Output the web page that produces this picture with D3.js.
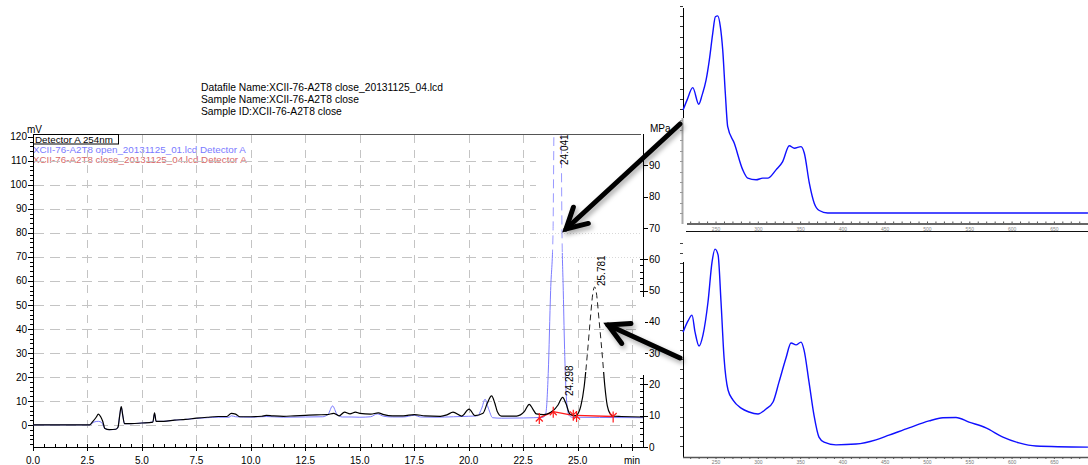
<!DOCTYPE html>
<html><head><meta charset="utf-8">
<script src="https://cdn.jsdelivr.net/npm/d3@7"></script>
<style>html,body{margin:0;padding:0;background:#fff;}svg{display:block;font-family:"Liberation Sans",Arial,sans-serif;}</style>
</head><body>
<svg id="c" width="1088" height="465"></svg>
<script>
// ---------- data ----------
const titleLines = ["Datafile Name:XCII-76-A2T8 close_20131125_04.lcd","Sample Name:XCII-76-A2T8 close","Sample ID:XCII-76-A2T8 close"];
const legendBox = "Detector A 254nm";
const legendOpen = "XCII-76-A2T8 open_20131125_01.lcd Detector A";
const legendClose = "XCII-76-A2T8 close_20131125_04.lcd Detector A";

const closeT = [0,2.6,2.75,2.9,3.0,3.1,3.2,3.3,3.5,3.8,3.9,3.98,4.05,4.12,4.2,4.5,5.0,5.5,5.58,5.65,6.0,6.5,7.0,7.5,8.0,8.5,8.9,9.1,9.3,9.5,10.0,10.5,10.7,11.0,11.5,12.0,12.5,13.0,13.5,13.8,14.05,14.3,14.55,14.8,15.0,15.5,15.85,16.1,16.5,17.0,17.5,18.0,18.7,19.0,19.28,19.67,20.02,20.28,20.66,20.85,21.05,21.2,21.31,21.5,22.2,22.55,22.78,22.95,23.1,23.42,23.88,24.1,24.31,24.46,24.64,24.87,25.0,25.15,25.3,25.45,25.6,25.7,25.78,25.86,25.98,26.14,26.25,26.36,26.5,26.65,27.0,28.0];
const closeMV = [0,0,1.5,3.2,4.5,3.5,1.5,-1.5,-2,-1.8,-1,4,7.6,4,0.5,0.5,0.8,1.2,5,1.5,1.5,2,2.3,2.8,3.2,3.5,3.5,4.8,4.5,3.4,3.4,3.6,4,3.8,3.6,3.8,4,4.2,4.3,4.8,3.8,5.3,4.6,5.3,4.8,4.5,5,4.3,3.8,3.8,4.3,3.8,3.6,4.2,5.3,3.7,6.6,3.9,4.9,9,12.1,9,5.6,3.7,3.7,5.5,8.6,6.5,4.6,4.3,6,8.3,11.5,9,4.6,3.8,4.5,8,16,30,46,55,57.5,55,44,28,16,8,4.5,3.6,3.5,3.3];

const openT = [0,2.6,2.8,3.0,3.15,3.3,3.5,3.8,3.9,3.98,4.05,4.12,4.2,4.5,5.0,5.5,5.58,5.65,6.0,6.5,7.0,7.5,8.0,8.5,9.0,9.1,9.3,10.0,10.7,11.5,12.5,13.3,13.55,13.75,13.95,14.2,14.6,15.0,15.5,15.8,16.1,16.5,17.0,17.5,17.8,18.5,19.3,20.0,20.4,20.6,20.75,20.9,21.1,21.5,22.5,23.42,23.54,23.65,23.76,23.87,23.92,24.04,24.15,24.24,24.28,24.34,24.41,24.49,24.6,24.75,26.0,28.0];
const openMV = [0,0,1.2,1.5,1,-1.5,-2,-1.8,-1,4,7.3,4,0.5,0.5,0.8,1.2,4.5,1.5,1.5,2,2.3,2.7,3,3.2,3.2,3.8,3.4,3.2,3.5,3.2,3.3,3.4,4.5,7.9,4.5,3.3,3.3,3.2,3.4,4.6,3.6,3.3,3.3,4,3.3,3.2,3.4,3.6,3.8,7,10.7,7,3,2.8,2.9,3.2,4.9,21.5,56,80,130,160,145,124,82,56,28.5,10.4,4,3.2,3.1,3.0];

// integration baselines (red) and markers
const baseStartT = [23.24,23.88,24.92];
const baseStartV = [2.9,5.5,4.0];
const baseEndT   = [23.88,24.85,26.63];
const baseEndV   = [5.5,3.9,3.5];
const markT = [23.24,23.88,24.80,24.95,26.63];
const markV = [2.9,5.5,4.2,3.7,3.5];
const markDir = [1,1,-1,1,-1];

const peakLabels = ["24.041","25.781","24.298"];

const xTicks = [0,2.5,5,7.5,10,12.5,15,17.5,20,22.5,25];
const yTicks = [0,10,20,30,40,50,60,70,80,90,100,110,120];
const rTicks = [0,10,20,30,40,50,60,70,80,90];

// UV spectra (nm, absorbance)
const specTopNm  = [211,215.7,222.5,229.6,233.5,238.2,242.1,246.1,249.2,252,255.1,257.9,261,263.8,271.6,281.6,287.5,297.3,305.2,311.1,320.9,328.8,336.6,342.6,350.5,354.4,360.3,366.2,372.1,382,689.7];
const specTopAbs = [2.48,2.72,3.02,2.62,2.84,3.2,3.69,4.33,4.73,4.75,4.49,3.93,2.88,2.08,1.68,1.04,0.84,0.8,0.84,0.84,1.04,1.24,1.62,1.56,1.6,1.44,0.72,0.23,0.06,0,0];
const specBotNm  = [211,216.9,221.6,225.2,229.9,234.6,240.5,245.3,248.8,252.4,255.9,259.5,264.2,270.1,279.6,289,299.6,309.1,317.4,324.5,332.7,338.7,344.6,350.5,354,359.9,365.8,371.7,377.7,391.8,415.5,439.1,454.5,478.1,501.8,518.3,533.7,549.1,569.1,589.2,608.2,628.3,689.7];
const specBotAbs = [2.95,3.24,3.39,2.95,2.59,2.88,3.73,4.77,5.1,4.95,3.73,2.28,1.45,1.19,0.98,0.88,0.83,0.96,1.14,1.66,2.28,2.67,2.62,2.69,2.49,1.66,0.8,0.23,0.1,0.03,0.05,0.16,0.28,0.47,0.65,0.73,0.74,0.62,0.47,0.23,0.08,0,-0.03];
const specTicks = [250,300,350,400,450,500,550,600,650];

// ---------- drawing ----------
const svg = d3.select("#c");
const defs = svg.append("defs");
const f = defs.append("filter").attr("id","sh").attr("x","-20%").attr("y","-20%").attr("width","150%").attr("height","150%");
f.append("feDropShadow").attr("dx",2).attr("dy",3).attr("stdDeviation",2.5).attr("flood-color","#000").attr("flood-opacity",0.35);

const x = d3.scaleLinear().domain([0,28]).range([33,643]);
const y = d3.scaleLinear().domain([-9.2,121.2]).range([447,134]);
const yR = d3.scaleLinear().domain([0,100]).range([447,134]);

// title
svg.append("g").selectAll("text").data(titleLines).join("text")
  .attr("x",201).attr("y",(d,i)=>90.5+i*12).attr("font-size",10.3).attr("fill","#000").text(d=>d);

// legend texts (under grid)
svg.append("text").attr("x",33).attr("y",153).attr("font-size",9.8).attr("fill","#7a7aff").text(legendOpen);
svg.append("text").attr("x",33).attr("y",162.5).attr("font-size",9.8).attr("fill","#d86a6a").text(legendClose);

// grid
const gGrid = svg.append("g").attr("stroke","#c4c4c4").attr("stroke-width",1);
gGrid.selectAll("line.v").data(xTicks.slice(1).concat([27.5])).join("line")
  .attr("x1",d=>Math.round(x(d))+0.5).attr("x2",d=>Math.round(x(d))+0.5).attr("y1",135).attr("y2",446)
  .attr("stroke-dasharray","8,7");
gGrid.selectAll("line.h").data(yTicks.filter(d=>d<=110)).join("line")
  .attr("x1",34).attr("x2",642).attr("y1",d=>Math.round(y(d))+0.5).attr("y2",d=>Math.round(y(d))+0.5)
  .attr("stroke-dasharray","10,6");

// white patch (pasted arrow picture) hiding part of grid
svg.append("rect").attr("x",536).attr("y",135).attr("width",106).attr("height",124).attr("fill","#fff");
svg.selectAll("line.dot").data([80,70]).join("line")
  .attr("x1",537).attr("x2",642).attr("y1",d=>Math.round(y(d))+0.5).attr("y2",d=>Math.round(y(d))+0.5)
  .attr("stroke","#d8d8d8").attr("stroke-dasharray","1,2");

// frame & axes
svg.append("line").attr("x1",33).attr("x2",641).attr("y1",134.5).attr("y2",134.5).attr("stroke","#555");
svg.append("line").attr("x1",33.5).attr("x2",33.5).attr("y1",134).attr("y2",447).attr("stroke","#000");
svg.append("line").attr("x1",33).attr("x2",643).attr("y1",447.5).attr("y2",447.5).attr("stroke","#000");

// left axis ticks
const gL = svg.append("g");
gL.selectAll("line.m").data(d3.range(-8,121,2)).join("line")
  .attr("x1",30).attr("x2",33).attr("y1",d=>Math.round(y(d))+0.5).attr("y2",d=>Math.round(y(d))+0.5).attr("stroke","#000");
gL.selectAll("line.M").data(yTicks).join("line")
  .attr("x1",28).attr("x2",33).attr("y1",d=>Math.round(y(d))+0.5).attr("y2",d=>Math.round(y(d))+0.5).attr("stroke","#000");
gL.selectAll("text").data(yTicks).join("text")
  .attr("x",27).attr("y",d=>y(d)+3.6).attr("text-anchor","end").attr("font-size",10).text(d=>d);
svg.append("text").attr("x",27).attr("y",133).attr("font-size",10).text("mV");

// bottom axis
const gB = svg.append("g");
gB.selectAll("line.m").data(d3.range(0,28.01,0.5)).join("line")
  .attr("x1",d=>Math.round(x(d))+0.5).attr("x2",d=>Math.round(x(d))+0.5).attr("y1",444).attr("y2",447).attr("stroke","#000");
gB.selectAll("line.M").data(xTicks.concat([27.5])).join("line")
  .attr("x1",d=>Math.round(x(d))+0.5).attr("x2",d=>Math.round(x(d))+0.5).attr("y1",447).attr("y2",451).attr("stroke","#000");
gB.selectAll("text").data(xTicks).join("text")
  .attr("x",d=>x(d)).attr("y",464).attr("text-anchor","middle").attr("font-size",10).text(d=>d.toFixed(1));
svg.append("text").attr("x",x(27.5)).attr("y",464).attr("text-anchor","middle").attr("font-size",10).text("min");

// right axis
const gR = svg.append("g");
gR.append("line").attr("x1",643.5).attr("x2",643.5).attr("y1",134).attr("y2",448).attr("stroke","#000");
gR.selectAll("line.m").data(d3.range(0,100,2).filter(d=>d<=60)).join("line")
  .attr("x1",640).attr("x2",643).attr("y1",d=>Math.round(yR(d))+0.5).attr("y2",d=>Math.round(yR(d))+0.5).attr("stroke","#000");
// patch over right axis line
svg.append("rect").attr("x",637).attr("y",297).attr("width",8).attr("height",78).attr("fill","#fff");
gR.selectAll("line.M").data(rTicks).join("line")
  .attr("x1",644).attr("x2",648).attr("y1",d=>Math.round(yR(d))+0.5).attr("y2",d=>Math.round(yR(d))+0.5).attr("stroke","#000");
gR.selectAll("text").data(rTicks).join("text")
  .attr("x",649).attr("y",d=>yR(d)+3.6).attr("font-size",10).text(d=>d);
svg.append("text").attr("x",650).attr("y",132).attr("font-size",10).text("MPa");

// legend box
svg.append("rect").attr("x",33.5).attr("y",134.5).attr("width",85).attr("height",9.5).attr("fill","#fff").attr("stroke","#000");
svg.append("text").attr("x",35).attr("y",142.8).attr("font-size",9.8).text(legendBox);

// traces
const clipBand = (id,y0,y1)=>{defs.append("clipPath").attr("id",id).append("rect").attr("x",33).attr("y",y0).attr("width",611).attr("height",y1-y0);};
clipBand("bLo",253,447); clipBand("bHi",135,253); clipBand("kLo",372,447); clipBand("kHi",135,372);
const line = d3.line().x(d=>x(d[0])).y(d=>y(d[1])).curve(d3.curveMonotoneX);
const openPts = openT.map((t,i)=>[t,openMV[i]]);
const closePts = closeT.map((t,i)=>[t,closeMV[i]]);
svg.append("path").attr("d",line(openPts)).attr("fill","none").attr("stroke","#7b7bff").attr("stroke-width",1).attr("clip-path","url(#bLo)");
svg.append("path").attr("d",line(openPts)).attr("fill","none").attr("stroke","#9a9aff").attr("stroke-width",1).attr("stroke-dasharray","9,5").attr("clip-path","url(#bHi)");

// red baselines
const gRed = svg.append("g").attr("stroke","#ff1a1a").attr("stroke-width",1.3).attr("fill","none");
gRed.selectAll("line").data(baseStartT).join("line")
  .attr("x1",(d)=>x(d)).attr("y1",(d,i)=>y(baseStartV[i])).attr("x2",(d,i)=>x(baseEndT[i])).attr("y2",(d,i)=>y(baseEndV[i]));

svg.append("path").attr("d",line(closePts)).attr("fill","none").attr("stroke","#000").attr("stroke-width",1.2).attr("clip-path","url(#kLo)");
svg.append("path").attr("d",line(closePts)).attr("fill","none").attr("stroke","#222").attr("stroke-width",1).attr("stroke-dasharray","6,4").attr("clip-path","url(#kHi)");

// red markers
const gM = svg.append("g").attr("stroke","#ff1a1a").attr("stroke-width",1.2).attr("fill","none");
markT.forEach((t,i)=>{
  const px=x(t), py=y(markV[i]), s=markDir[i];
  gM.append("line").attr("x1",px).attr("x2",px).attr("y1",py-5).attr("y2",py+6);
  gM.append("path").attr("d",`M${px-3.5},${py+s*3.5} L${px},${py} L${px+3.5},${py+s*3.5}`);
});

// peak labels (rotated)
const labelPos = [[568,165],[605,286],[573,396]];
svg.append("g").selectAll("text").data(peakLabels).join("text")
  .attr("transform",(d,i)=>`translate(${labelPos[i][0]},${labelPos[i][1]}) rotate(-90)`)
  .attr("font-size",10).attr("fill","#000").text(d=>d);

// ---------- UV spectra ----------
const sx = d3.scaleLinear().domain([210,690]).range([682.2,1088.2]);
const tY = d3.scaleLinear().domain([0,5]).range([213,5.5]);
const bY = d3.scaleLinear().domain([0,5]).range([446,253]);
const sLine = (ys)=>d3.line().x(d=>sx(d[0])).y(d=>ys(d[1])).curve(d3.curveMonotoneX);

// top spectrum axes
svg.append("line").attr("x1",683.5).attr("x2",683.5).attr("y1",8).attr("y2",118).attr("stroke","#000");
svg.append("line").attr("x1",682.5).attr("x2",682.5).attr("y1",118).attr("y2",224).attr("stroke","#aaa").attr("stroke-width",2);
svg.selectAll("line.tt").data(d3.range(0,5.3,0.25)).join("line")
  .attr("x1",680).attr("x2",683).attr("y1",d=>Math.round(tY(d))+0.5).attr("y2",d=>Math.round(tY(d))+0.5)
  .attr("stroke",d=>tY(d)<118?"#333":"#999");
svg.append("line").attr("x1",687).attr("x2",1088).attr("y1",224).attr("y2",224).attr("stroke","#666").attr("stroke-width",2);
svg.selectAll("line.tx").data(d3.range(220,690,10)).join("line")
  .attr("x1",d=>sx(d)).attr("x2",d=>sx(d)).attr("y1",221.5).attr("y2",223).attr("stroke","#555");
svg.selectAll("text.tx").data(specTicks).join("text")
  .attr("x",d=>sx(d)).attr("y",230.5).attr("text-anchor","middle").attr("font-size",5).attr("fill","#888").text(d=>d);
svg.append("line").attr("x1",686).attr("x2",1088).attr("y1",231.5).attr("y2",231.5).attr("stroke","#111");
svg.append("path").attr("d",sLine(tY)(specTopNm.map((n,i)=>[n,specTopAbs[i]])))
  .attr("fill","none").attr("stroke","#1010ff").attr("stroke-width",1.4);

// bottom spectrum axes
svg.append("line").attr("x1",683.5).attr("x2",683.5).attr("y1",262).attr("y2",457).attr("stroke","#000");
svg.selectAll("line.bt").data(d3.range(0,5.3,0.25)).join("line")
  .attr("x1",680).attr("x2",683).attr("y1",d=>Math.round(bY(d))+0.5).attr("y2",d=>Math.round(bY(d))+0.5).attr("stroke","#444");
svg.append("line").attr("x1",683).attr("x2",1088).attr("y1",457.5).attr("y2",457.5).attr("stroke","#555").attr("stroke-width",1.5);
svg.selectAll("line.bx").data(d3.range(220,690,10)).join("line")
  .attr("x1",d=>sx(d)).attr("x2",d=>sx(d)).attr("y1",457).attr("y2",459).attr("stroke","#555");
svg.selectAll("text.bx").data(specTicks).join("text")
  .attr("x",d=>sx(d)).attr("y",464).attr("text-anchor","middle").attr("font-size",5).attr("fill","#777").text(d=>d);
svg.append("path").attr("d",sLine(bY)(specBotNm.map((n,i)=>[n,specBotAbs[i]])))
  .attr("fill","none").attr("stroke","#1010ff").attr("stroke-width",1.4);

// ---------- arrows ----------
function arrow(x1,y1,x2,y2){
  const g = svg.append("g").attr("filter","url(#sh)").attr("stroke","#000").attr("stroke-width",5).attr("stroke-linecap","round").attr("fill","none");
  const a = Math.atan2(y1-y2,x1-x2), L=23, h=0.5;
  g.append("line").attr("x1",x1).attr("y1",y1).attr("x2",x2).attr("y2",y2);
  g.append("path").attr("stroke-linejoin","miter")
   .attr("d",`M${x2+L*Math.cos(a+h)},${y2+L*Math.sin(a+h)} L${x2},${y2} L${x2+L*Math.cos(a-h)},${y2+L*Math.sin(a-h)}`);
}
arrow(680,124,566,229);
arrow(680,358,608,325);
</script>
</body></html>
